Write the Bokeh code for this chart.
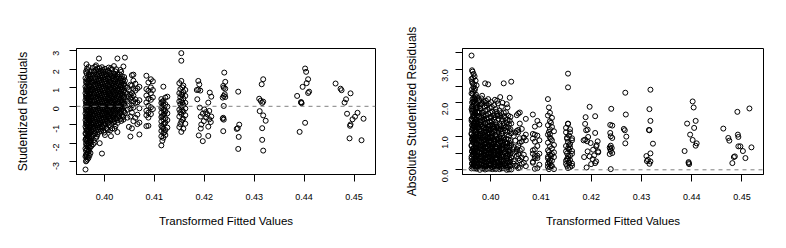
import math
from bokeh.plotting import figure
from bokeh.models import ColumnDataSource, FixedTicker, PrintfTickFormatter, Span
from bokeh.layouts import row
from bokeh.embed import file_html
from bokeh.resources import INLINE

# ---- data: transformed fitted values (x) and studentized residuals (y) ----
# dense part: fitted value -> residuals observed at that fitted value
dense_cols = {
    0.3962: [-3.41, -2.71, -2.28, -1.81, -1.46, -1.09, -0.74, -0.39, -0.04, 0.33, 0.71, 1.06, 1.52],
    0.3964: [-2.93, -2.58, -2.11, -1.70, -1.33, -0.98, -0.62, -0.28, 0.08, 0.45, 0.83, 1.24, 1.79, 2.27],
    0.3966: [-2.86, -2.47, -2.04, -1.63, -1.29, -0.93, -0.57, -0.21, 0.14, 0.51, 0.91, 1.31, 1.95],
    0.3968: [-2.79, -2.36, -1.98, -1.57, -1.22, -0.86, -0.51, -0.17, 0.21, 0.58, 0.98, 1.43, 2.12],
    0.3970: [-2.66, -2.19, -1.93, -1.52, -1.16, -0.81, -0.46, -0.10, 0.26, 0.62, 1.13, 1.66],
    0.3972: [-2.52, -1.86, -1.41, -1.05, -0.70, -0.33, 0.03, 0.38, 0.77, 1.21, 1.58],
    0.3974: [-2.14, -1.74, -1.36, -0.99, -0.66, -0.30, 0.11, 0.47, 0.86, 1.38, 1.88],
    0.3977: [-2.05, -1.58, -1.21, -0.88, -0.52, -0.19, 0.16, 0.52, 0.89, 1.27, 1.72, 2.08],
    0.3980: [-1.96, -1.44, -1.07, -0.72, -0.41, -0.08, 0.24, 0.61, 0.95, 1.35, 1.83],
    0.3983: [-1.71, -1.29, -0.95, -0.61, -0.27, 0.05, 0.39, 0.73, 1.09, 1.48, 1.97, 2.21],
    0.3986: [-1.52, -1.12, -0.79, -0.46, -0.14, 0.19, 0.55, 0.88, 1.22, 1.61, 2.04],
    0.3989: [-1.38, -0.98, -0.66, -0.33, 0.01, 0.34, 0.68, 1.02, 1.39, 1.76, 2.58],
    0.3992: [-1.23, -0.87, -0.52, -0.21, 0.12, 0.47, 0.81, 1.15, 1.53, 1.92],
    0.3995: [-2.55, -1.09, -0.74, -0.40, -0.07, 0.26, 0.59, 0.94, 1.28, 1.67, 2.11],
    0.3998: [-1.31, -0.94, -0.60, -0.28, 0.06, 0.40, 0.73, 1.08, 1.44, 1.85],
    0.4001: [-1.55, -0.82, -0.48, -0.16, 0.18, 0.52, 0.86, 1.21, 1.58, 2.02],
    0.4004: [-1.17, -0.69, -0.35, -0.02, 0.31, 0.65, 0.99, 1.36, 1.74],
    0.4007: [-1.28, -0.90, -0.57, -0.22, 0.11, 0.44, 0.79, 1.13, 1.49, 1.93],
    0.4010: [-1.02, -0.64, -0.31, 0.02, 0.36, 0.70, 1.05, 1.41, 1.81],
    0.4013: [-1.61, -0.77, -0.43, -0.09, 0.23, 0.57, 0.92, 1.27, 1.66, 2.06],
    0.4016: [-1.19, -0.58, -0.25, 0.09, 0.43, 0.78, 1.12, 1.52],
    0.4019: [-0.86, -0.50, -0.15, 0.17, 0.50, 0.85, 1.20, 1.60, 2.17],
    0.4022: [-1.08, -0.63, -0.30, 0.04, 0.38, 0.72, 1.07, 1.45, 1.88],
    0.4026: [-1.39, -0.75, -0.39, -0.05, 0.28, 0.63, 0.97, 1.33, 1.71, 2.58],
    0.4029: [-0.55, -0.20, 0.13, 0.48, 0.82, 1.17, 1.55],
    0.4032: [-0.68, -0.34, 0.00, 0.35, 0.69, 1.03, 1.40, 1.96],
    0.4035: [-0.47, -0.13, 0.21, 0.56, 0.90, 1.26, 1.62],
    0.4038: [-0.72, -0.58, -0.24, 0.10, 0.45, 0.80, 1.16, 1.46, 2.15],
    0.4041: [-0.36, 0.01, 0.37, 0.74, 1.09, 1.38, 2.63],
    0.4052: [-1.63, -0.55, -0.12, 0.41, 0.62, 1.16],
    0.4055: [-1.19, -0.34, 0.05, 0.47, 0.72, 1.12, 1.68],
    0.4058: [-0.80, -0.07, 0.28, 0.58, 0.94, 1.38, 1.71],
    0.4062: [-0.62, 0.18, 0.37, 0.85, 1.22],
    0.4066: [-0.96, -0.45, 0.21, 0.96],
    0.4070: [-1.52, -0.88, -0.11, 0.33, 1.05],
    0.4084: [-1.07, -0.48, -0.24, 0.21, 0.58, 0.93, 1.65],
    0.4088: [-1.05, -0.61, -0.34, 0.03, 0.41, 0.84, 1.29],
    0.4093: [-0.42, -0.05, 0.35, 0.71, 1.02, 1.46],
    0.4097: [-0.15, 0.48, 0.88, 1.35],
    0.4114: [-2.11, -1.62, -1.33, -1.05, -0.81, -0.58, -0.34, -0.09, 0.18, 0.39],
    0.4118: [-1.70, -1.45, -1.21, -0.96, -0.70, -0.45, -0.20, 0.08, 0.29, 1.06],
    0.4122: [-1.55, -1.28, -0.88, -0.64, -0.27, 0.11, 0.47],
    0.4126: [-1.15, -0.74, -0.38, -0.02, 0.52],
    0.4150: [-1.12, -0.55, -0.18, 0.27, 0.71, 1.25],
    0.4154: [-1.38, -0.83, -0.41, -0.05, 0.33, 0.64, 1.37, 2.46, 2.87],
    0.4158: [-1.21, -0.67, -0.29, 0.08, 0.42, 0.77, 1.12],
    0.4162: [-0.94, -0.48, -0.12, 0.19, 0.56, 0.88],
}

# further observations inside the dense band (interleaved fitted values)
dense_cols_extra = {
    0.3963: [-2.97, -2.63, -2.40, -2.01, -1.76, -1.50, -1.19, -0.90, -0.55, -0.19, 0.18, 0.55, 0.92, 1.33, 1.88],
    0.3965: [-2.74, -2.33, -1.89, -1.59, -1.25, -0.84, -0.48, -0.12, 0.24, 0.62, 1.01, 1.45, 2.03],
    0.3967: [-2.55, -2.16, -1.77, -1.39, -1.03, -0.67, -0.32, 0.04, 0.40, 0.79, 1.17, 1.61],
    0.3969: [-2.42, -2.08, -1.68, -1.31, -0.95, -0.60, -0.25, 0.11, 0.49, 0.87, 1.28, 1.73],
    0.3971: [-2.24, -1.84, -1.44, -1.12, -0.77, -0.42, -0.06, 0.31, 0.67, 1.04, 1.49],
    0.3973: [-1.97, -1.62, -1.27, -0.91, -0.56, -0.22, 0.15, 0.53, 0.94, 1.30, 1.71],
    0.39785: [-1.83, -1.35, -1.01, -0.66, -0.33, 0.00, 0.32, 0.69, 1.03, 1.41, 1.90],
    0.39815: [-1.48, -1.16, -0.83, -0.50, -0.17, 0.14, 0.47, 0.83, 1.17, 1.56, 2.13],
    0.39845: [-1.63, -1.03, -0.70, -0.37, -0.04, 0.28, 0.63, 0.98, 1.31, 1.70],
    0.39875: [-1.26, -0.91, -0.56, -0.23, 0.10, 0.43, 0.77, 1.12, 1.47, 1.88],
    0.39905: [-1.99, -1.15, -0.78, -0.45, -0.12, 0.22, 0.56, 0.90, 1.24, 1.62, 2.06],
    0.39935: [-1.33, -0.96, -0.64, -0.30, 0.03, 0.37, 0.70, 1.05, 1.41, 1.79],
    0.39965: [-1.12, -0.81, -0.47, -0.14, 0.19, 0.51, 0.85, 1.19, 1.55, 1.97],
    0.39995: [-1.42, -1.00, -0.67, -0.36, -0.03, 0.29, 0.63, 0.98, 1.33, 1.71],
    0.40025: [-0.95, -0.58, -0.25, 0.08, 0.42, 0.76, 1.10, 1.46, 1.87],
    0.40055: [-1.22, -0.78, -0.44, -0.11, 0.22, 0.57, 0.91, 1.26, 1.63],
    0.40085: [-0.87, -0.52, -0.18, 0.16, 0.49, 0.84, 1.18, 1.57, 2.09],
    0.40115: [-1.29, -0.70, -0.37, -0.04, 0.29, 0.63, 0.98, 1.34, 1.73],
    0.40145: [-0.94, -0.47, -0.13, 0.20, 0.54, 0.89, 1.24, 1.62, 1.98],
    0.40175: [-0.71, -0.38, -0.02, 0.32, 0.66, 1.00, 1.37, 1.77],
    0.40205: [-1.21, -0.81, -0.43, -0.09, 0.26, 0.60, 0.94, 1.30, 1.69],
    0.40235: [-0.66, -0.21, 0.13, 0.46, 0.81, 1.15, 1.51, 2.00],
    0.40265: [-0.89, -0.52, -0.17, 0.18, 0.53, 0.88, 1.24, 1.60],
    0.40305: [-0.41, -0.07, 0.27, 0.60, 0.93, 1.29, 1.72],
    0.40335: [-0.79, -0.26, 0.07, 0.42, 0.78, 1.13, 1.49, 1.86],
    0.40365: [-0.55, -0.01, 0.33, 0.67, 1.02, 1.35],
    0.40395: [-0.29, 0.15, 0.50, 0.86, 1.21, 1.58],
    0.4046: [-0.61, -0.18, 0.26, 0.68, 1.01],
    0.4049: [-1.11, 0.12, 0.53, 0.87],
    0.4116: [-1.86, -1.13, -0.53, -0.02, 0.25],
    0.4120: [-1.40, -0.92, -0.41, -0.13],
    0.4152: [-0.96, -0.32, 0.12, 0.49, 0.93],
    0.4156: [-0.73, -0.22, 0.20, 0.61, 1.02],
}

# sparse clusters: (fitted value, residual)
cluster_420 = [(0.4188, 1.37), (0.4190, 1.18), (0.4185, 0.88), (0.4188, 0.90), (0.4192, 0.85),
               (0.4211, 0.74), (0.4186, 0.38), (0.4214, 0.52), (0.4208, 0.20), (0.4191, -0.07),
               (0.4200, -0.17), (0.4210, -0.25), (0.4206, -0.43), (0.4193, -0.55), (0.4214, -0.55),
               (0.4204, -0.60), (0.4210, -0.70), (0.4199, -0.80), (0.4194, -0.98), (0.4208, -1.10),
               (0.4193, -1.20), (0.4189, -1.57), (0.4197, -1.88), (0.4208, -1.60), (0.4213, -0.85),
               (0.4203, -0.32), (0.4197, -0.40)]
cluster_424 = [(0.4240, 1.82), (0.4242, 1.32), (0.4238, 1.10), (0.4239, 1.00), (0.4242, 0.95),
               (0.4239, 0.56), (0.4242, 0.50), (0.4237, 0.47), (0.4239, 0.02), (0.4238, -0.62),
               (0.4239, -0.72), (0.4238, -1.34), (0.4241, 0.65), (0.4237, -0.67)]
cluster_427 = [(0.4268, 0.79), (0.4270, -0.99), (0.4267, -1.18), (0.4265, -1.22),
               (0.4269, -1.65), (0.4268, -2.30)]
cluster_431 = [(0.4318, 1.46), (0.4315, 1.19), (0.4310, 0.41), (0.4313, 0.30), (0.4318, 0.25),
               (0.4316, 0.18), (0.4311, -0.26), (0.4318, -0.49), (0.4323, -0.78), (0.4316, -1.18),
               (0.4316, -1.81), (0.4318, -2.39)]
cluster_440 = [(0.4402, 2.04), (0.4404, 1.86), (0.4408, 1.46), (0.4405, 1.25), (0.4397, 1.05),
               (0.4410, 0.79), (0.4408, 0.72), (0.4386, 0.56), (0.4394, 0.23), (0.4395, 0.17),
               (0.4394, 0.20), (0.4402, -0.89), (0.4391, -1.38)]
cluster_449 = [(0.4463, 1.23), (0.4473, 0.95), (0.4475, 0.87), (0.4493, 0.70), (0.4484, 0.38),
               (0.4481, 0.20), (0.4486, -0.40), (0.4507, -0.35), (0.4502, -0.56), (0.4497, -0.70),
               (0.4519, -0.67), (0.4493, -0.98), (0.4492, -1.05), (0.4491, -1.73), (0.4515, -1.83)]

x_ticks = [0.40, 0.41, 0.42, 0.43, 0.44, 0.45]
y_ticks_left = [-3, -2, -1, 0, 1, 2, 3]
y_ticks_right = [0.0, 0.5, 1.0, 1.5, 2.0, 2.5, 3.0, 3.5]

fitted, resid = [], []
for cols in (dense_cols, dense_cols_extra):
    for fx, ys in cols.items():
        for yv in ys:
            fitted.append(fx)
            resid.append(yv)
for cl in (cluster_420, cluster_424, cluster_427, cluster_431, cluster_440, cluster_449):
    for fx, yv in cl:
        fitted.append(fx)
        resid.append(yv)
abs_resid = [abs(v) for v in resid]

FONT = "Liberation Sans"


def style(p, yticks, yfmt, ylab_standoff, ytick_standoff):
    p.xgrid.visible = False
    p.ygrid.visible = False
    p.outline_line_color = "black"
    p.outline_line_width = 1
    p.background_fill_color = "white"
    p.border_fill_color = "white"
    for ax in (p.xaxis[0], p.yaxis[0]):
        ax.axis_line_color = "black"
        ax.major_tick_line_color = "black"
        ax.minor_tick_line_color = None
        ax.major_tick_in = 0
        ax.major_tick_out = 7
        ax.major_label_text_font = FONT
        ax.major_label_text_font_size = "9px"
        ax.major_label_text_color = "black"
        ax.axis_label_text_font = FONT
        ax.axis_label_text_font_style = "normal"
        ax.axis_label_text_color = "black"
    p.xaxis[0].ticker = FixedTicker(ticks=x_ticks)
    p.xaxis[0].formatter = PrintfTickFormatter(format="%.2f")
    p.xaxis[0].major_label_standoff = 12
    p.xaxis[0].axis_label_standoff = 12
    p.xaxis[0].axis_label_text_font_size = "11.5px"
    p.yaxis[0].ticker = FixedTicker(ticks=yticks)
    p.yaxis[0].formatter = PrintfTickFormatter(format=yfmt)
    p.yaxis[0].major_label_orientation = math.pi / 2
    p.yaxis[0].major_label_standoff = ytick_standoff
    p.yaxis[0].axis_label_standoff = ylab_standoff
    p.yaxis[0].axis_label_text_font_size = "12px"


p1 = figure(width=393, height=248, output_backend="svg", toolbar_location=None,
            x_range=(0.3944, 0.4543), y_range=(-3.68, 3.12),
            min_border_left=76, min_border_right=18, min_border_top=48, min_border_bottom=74,
            x_axis_label="Transformed Fitted Values", y_axis_label="Studentized Residuals")
style(p1, y_ticks_left, "%d", 18, 13)
src1 = ColumnDataSource(dict(x=fitted, y=resid))
p1.add_layout(Span(location=0, dimension="width", line_color="#808080", line_dash="4 4", line_width=1))
p1.scatter("x", "y", source=src1, marker="circle", size=5, fill_color=None,
           line_color="black", line_width=1)

p2 = figure(width=393, height=248, output_backend="svg", toolbar_location=None,
            x_range=(0.3944, 0.4543), y_range=(-0.14, 3.62),
            min_border_left=69, min_border_right=23, min_border_top=48, min_border_bottom=74,
            x_axis_label="Transformed Fitted Values", y_axis_label="Absolute Studentized Residuals")
style(p2, y_ticks_right, "%.1f", 18, 10)
p2.yaxis[0].major_label_overrides = {0.5: "", 1.5: "", 2.5: "", 3.5: ""}
src2 = ColumnDataSource(dict(x=fitted, y=abs_resid))
p2.add_layout(Span(location=0, dimension="width", line_color="#808080", line_dash="4 4", line_width=1))
p2.scatter("x", "y", source=src2, marker="circle", size=5, fill_color=None,
           line_color="black", line_width=1)

layout = row(p1, p2)
open("out.html", "w").write(file_html(layout, INLINE))
